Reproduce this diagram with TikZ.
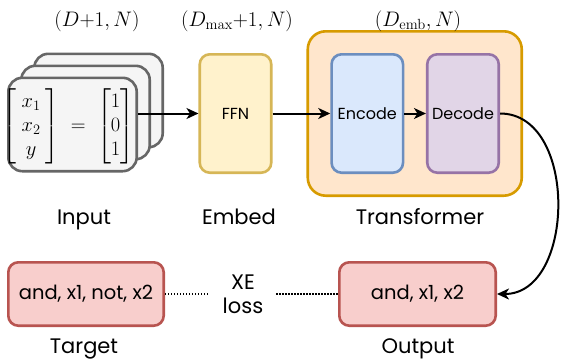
\RequirePackage{fix-cm}
\documentclass[tikz,border=0pt]{standalone}
\usepackage{amsmath}
\usepackage[no-math]{fontspec}
\newfontfamily\geo{Poppins}
\usetikzlibrary{arrows.meta,positioning}

\definecolor{grayfill}{HTML}{F5F5F5}
\definecolor{graydraw}{HTML}{666666}
\definecolor{yelfill}{HTML}{FFF2CC}
\definecolor{yeldraw}{HTML}{D6B656}
\definecolor{orafill}{HTML}{FFE6CC}
\definecolor{oradraw}{HTML}{D79B00}
\definecolor{blufill}{HTML}{DAE8FC}
\definecolor{bludraw}{HTML}{6C8EBF}
\definecolor{purfill}{HTML}{E1D5E7}
\definecolor{purdraw}{HTML}{9673A6}
\definecolor{redfill}{HTML}{F8CECC}
\definecolor{reddraw}{HTML}{B85450}

\tikzset{
  x=1pt, y=1pt,
  box/.style={rounded corners=10pt, line width=2.6pt, inner sep=0pt},
  inbox/.style={box, rounded corners=14pt, draw=graydraw, fill=grayfill,
    minimum width=128.4pt, minimum height=93.4pt},
  tallbox/.style={box, minimum width=71.5pt, minimum height=118.4pt,
    font=\geo\fontsize{16}{18}\selectfont},
  tokbox/.style={box, draw=reddraw, fill=redfill, minimum height=63.4pt,
    font=\geo\fontsize{19.5}{22}\selectfont},
  caption/.style={font=\geo\fontsize{21}{24}\selectfont, inner sep=0pt, anchor=base},
  shape label/.style={font=\fontsize{21}{24}\selectfont, inner sep=0pt},
  flow/.style={line width=2pt, -{Stealth[length=12pt,width=11pt,inset=3.5pt]}},
  lossline/.style={line width=1.6pt, dash pattern=on 1.4pt off 1.6pt},
}

\begin{document}
\begin{tikzpicture}
\useasboundingbox (0,0) rectangle (563,360);

% input stack
\node[inbox] (back)  at (98.5,259.5) {};
\node[inbox] (mid)   at (85.5,247.5) {};
\node[inbox] (front) at (72.5,235.5) {};
\node[inner sep=0pt, font=\fontsize{20.5}{24}\selectfont] (vec) at (68.5,233.5)
  {$\left[\begin{array}{c}x_1\\x_2\\y\end{array}\right]\;=\;\begin{bmatrix}1\\0\\1\end{bmatrix}$};

% embedding
\node[tallbox, draw=yeldraw, fill=yelfill] (ffn) at (235.5,246.5) {FFN};

% transformer block
\node[box, rounded corners=18pt, draw=oradraw, fill=orafill,
  minimum width=214pt, minimum height=164.4pt] (tf) at (414.75,246.5) {};
\node[tallbox, draw=bludraw, fill=blufill] (enc) at (367.3,246.5) {Encode};
\node[tallbox, draw=purdraw, fill=purfill] (dec) at (463,246.5) {Decode};

% tokens and loss
\node[tokbox, minimum width=155.4pt] (target) at (86,66) {and, x1, not, x2};
\node[tokbox, minimum width=156.4pt] (output) at (417.5,66) {and, x1, x2};
\node[font=\geo\fontsize{21}{24}\selectfont, align=center, inner sep=0pt,
  minimum width=66pt] (xe) at (243,66) {XE\\loss};

% shape labels
\node[shape label] (s1) at (97,338.5) {$(D{+}1,N)$};
\node[shape label] (s2) at (237,338.5) {$(D_{\max}{+}1,N)$};
\node[shape label] (s3) at (418,338.5) {$(D_{\mathrm{emb}},N)$};

% captions
\node[caption] (c1) at (84,135.5) {Input};
\node[caption] (c2) at (239,135.5) {Embed};
\node[caption] (c3) at (420,135.5) {Transformer};
\node[caption] (c4) at (84,7) {Target};
\node[caption] (c5) at (418,7) {Output};

% connectors
\coordinate (instart) at (ffn.west -| front.east);
\draw[flow] (instart) -- (ffn.west);
\draw[flow] (ffn.east) -- (enc.west);
\draw[flow] (enc.east) -- (dec.west);
\draw[flow] (dec.east) to[out=0,in=0,looseness=1.11] (output.east);
\draw[lossline] (target.east) -- (xe.west);
\draw[lossline] (xe.east) -- (output.west);
\end{tikzpicture}
\end{document}
